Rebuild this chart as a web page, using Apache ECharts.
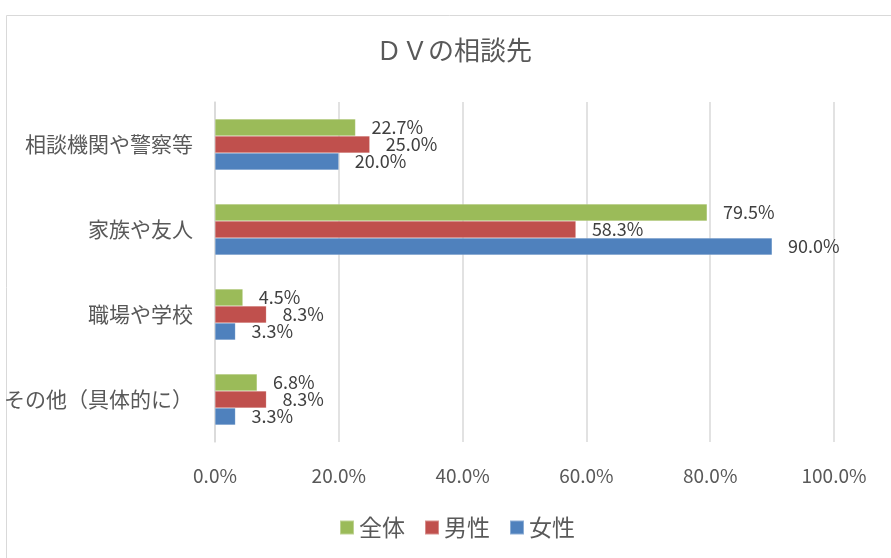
<!DOCTYPE html>
<html>
<head>
<meta charset="utf-8">
<script src="https://cdn.jsdelivr.net/npm/echarts@6/dist/echarts.min.js"></script>
<style>
html,body{margin:0;padding:0;background:#fff;}
#chart{width:891px;height:558px;}
</style>
</head>
<body>
<div id="chart"></div>
<script>
const titleText = 'ＤＶの相談先';
const categories = ['相談機関や警察等', '家族や友人', '職場や学校', 'その他（具体的に）'];
const seriesNames = ['全体', '男性', '女性'];
const totalValues = [22.7, 79.5, 4.5, 6.8];
const maleValues = [25.0, 58.3, 8.3, 8.3];
const femaleValues = [20.0, 90.0, 3.3, 3.3];
const xTicks = [0, 20, 40, 60, 80, 100];
const colors = ['#9BBB59', '#C0504D', '#4F81BD'];

const FONT = '"Noto Sans CJK JP", "Noto Sans", sans-serif';
const chart = echarts.init(document.getElementById('chart'));

function mkSeries(name, data, color) {
  return {
    name: name,
    type: 'bar',
    data: data,
    barWidth: 17,
    barGap: '0%',
    itemStyle: { color: color, borderColor: 'rgba(255,255,255,0.35)', borderWidth: 0.5 },
    label: {
      show: true,
      position: 'right',
      distance: 16,
      color: '#404040',
      fontFamily: FONT,
      fontSize: 18,
      formatter: p => p.value.toFixed(1) + '%'
    }
  };
}

chart.setOption({
  animation: false,
  color: colors,
  graphic: [{
    type: 'rect',
    left: 4, top: 13,
    shape: { width: 920, height: 580 },
    style: { fill: 'none', stroke: '#d9d9d9', lineWidth: 1 },
    silent: true
  }],
  title: {
    text: titleText,
    left: 454,
    top: 37,
    textAlign: 'center',
    padding: 0,
    textStyle: { fontFamily: FONT, fontSize: 26, fontWeight: 'normal', color: '#595959' }
  },
  legend: {
    data: seriesNames,
    left: 339,
    top: 516,
    padding: 0,
    itemWidth: 14,
    itemHeight: 14,
    itemGap: 19,
    icon: 'rect',
    textStyle: { fontFamily: FONT, fontSize: 23, color: '#595959' }
  },
  grid: { left: 215, right: 57, top: 102, bottom: 116, containLabel: false },
  xAxis: {
    type: 'value',
    min: xTicks[0],
    max: xTicks[xTicks.length - 1],
    interval: xTicks[1] - xTicks[0],
    axisLine: { show: false },
    axisTick: { show: false },
    splitLine: { show: true, lineStyle: { color: '#d9d9d9', width: 1.5 } },
    axisLabel: {
      margin: 24,
      color: '#595959',
      fontFamily: FONT,
      fontSize: 19,
      formatter: v => v.toFixed(1) + '%'
    }
  },
  yAxis: {
    type: 'category',
    data: categories,
    inverse: true,
    axisLine: { show: true, lineStyle: { color: '#d9d9d9', width: 1.5 } },
    axisTick: { show: false },
    axisLabel: { margin: 22, color: '#595959', fontFamily: FONT, fontSize: 21 }
  },
  series: [
    mkSeries(seriesNames[0], totalValues, colors[0]),
    mkSeries(seriesNames[1], maleValues, colors[1]),
    mkSeries(seriesNames[2], femaleValues, colors[2])
  ]
});
</script>
</body>
</html>
